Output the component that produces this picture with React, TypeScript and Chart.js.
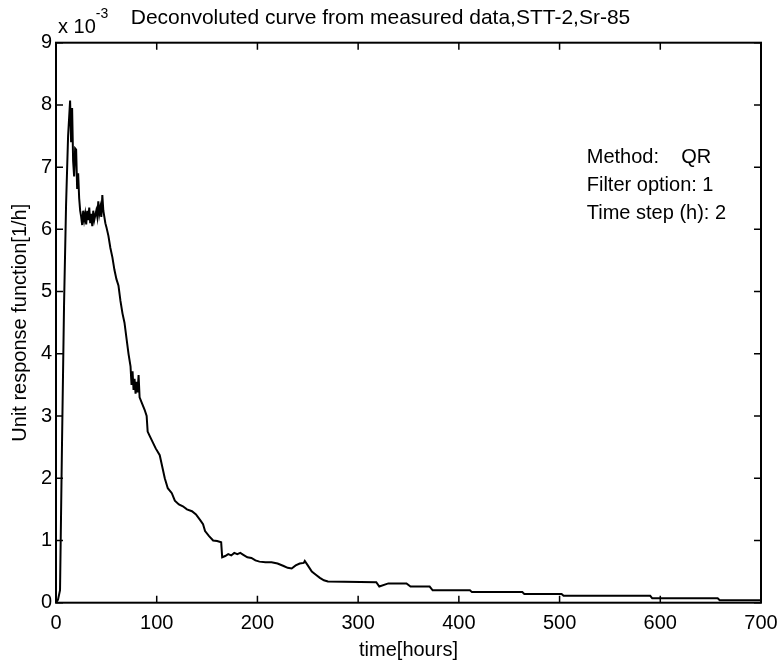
import React, { useEffect, useRef } from "react";
import { Chart, registerables } from "chart.js";

Chart.register(...registerables);

// ---- data (time in hours, unit response in 1e-3 · 1/h) ----
const hours = [
  0, 2, 4, 6, 8, 10, 12, 14, 15, 16, 17, 18, 19, 20, 21, 22, 23, 24, 25, 26, 27, 28, 29, 30,
  31, 32, 33, 34, 35, 36, 37, 38, 40, 41, 42, 43, 44, 45, 46, 47, 48, 49, 50, 52, 54, 56, 58,
  60, 62, 64, 66, 68, 70, 72, 74, 75, 76, 77, 78, 79, 80, 81, 82, 83, 85, 88, 90, 91, 93, 96,
  99, 103, 106, 108, 111, 115, 118, 122, 126, 130, 135, 139, 143, 146, 148, 152, 156, 160,
  164, 165, 168, 171, 174, 177, 180, 183, 186, 190, 194, 198, 202, 208, 214, 220, 226, 230,
  234, 238, 242, 246, 247, 250, 254, 258, 262, 266, 270, 318, 321, 330, 348, 352, 371, 374,
  411, 413, 463, 465, 502, 504, 590, 592, 657, 659, 700,
];
const response = [
  0, 0.05, 0.2, 2.6, 4.8, 6.4, 7.5, 8.07, 7.4, 7.95, 7.1, 6.85, 7.3, 7.28, 6.65, 6.9, 6.5, 6.3,
  6.2, 6.07, 6.3, 6.15, 6.25, 6.08, 6.3, 6.15, 6.35, 6.1, 6.25, 6.05, 6.3, 6.15, 6.3, 6.2, 6.45,
  6.25, 6.35, 6.2, 6.55, 6.3, 6.2, 6.1, 6.04, 5.9, 5.7, 5.55, 5.35, 5.2, 5.1, 4.85, 4.65, 4.5,
  4.25, 4.0, 3.8, 3.5, 3.72, 3.42, 3.6, 3.36, 3.55, 3.38, 3.66, 3.3, 3.22, 3.1, 3.0, 2.75, 2.68,
  2.58, 2.48, 2.37, 2.15, 2.0, 1.84, 1.76, 1.64, 1.58, 1.55, 1.5, 1.47, 1.42, 1.33, 1.26, 1.15,
  1.07, 1.0, 0.99, 0.97, 0.73, 0.75, 0.78, 0.76, 0.8, 0.78, 0.8, 0.77, 0.73, 0.72, 0.68, 0.66,
  0.65, 0.65, 0.63, 0.59, 0.56, 0.55, 0.6, 0.63, 0.64, 0.67, 0.6, 0.5, 0.45, 0.4, 0.36, 0.34,
  0.33, 0.26, 0.31, 0.31, 0.26, 0.26, 0.2, 0.2, 0.17, 0.17, 0.14, 0.14, 0.11, 0.11, 0.07, 0.07,
  0.04, 0.04,
];

const xTicks = [0, 100, 200, 300, 400, 500, 600, 700];
const yTicks = [0, 1, 2, 3, 4, 5, 6, 7, 8, 9];

const titleText = "Deconvoluted curve from measured data,STT-2,Sr-85";
const xTitle = "time[hours]";
const yTitle = "Unit response function[1/h]";
const annotationLines = ["Method:    QR", "Filter option: 1", "Time step (h): 2"];
const annotationAt = { x: 527, y: [7.06, 6.61, 6.17] };

const FONT = "'Liberation Sans', Arial, Helvetica, sans-serif";

const framePlugin = {
  id: "matlabFrame",
  afterDatasetsDraw(chart: any) {
    const { ctx, chartArea, scales } = chart;
    const { left, right, top, bottom } = chartArea;
    const x = scales.x;
    const y = scales.y;
    ctx.save();
    ctx.strokeStyle = "#000";
    ctx.lineWidth = 2;
    ctx.strokeRect(left, top, right - left, bottom - top);
    ctx.lineWidth = 1.5;
    const tl = 7;
    ctx.beginPath();
    xTicks.forEach((v) => {
      const px = x.getPixelForValue(v);
      ctx.moveTo(px, bottom);
      ctx.lineTo(px, bottom - tl);
      ctx.moveTo(px, top);
      ctx.lineTo(px, top + tl);
    });
    yTicks.forEach((v) => {
      const py = y.getPixelForValue(v);
      ctx.moveTo(left, py);
      ctx.lineTo(left + tl, py);
      ctx.moveTo(right, py);
      ctx.lineTo(right - tl, py);
    });
    ctx.stroke();

    // exponent label
    ctx.fillStyle = "#000";
    ctx.textAlign = "left";
    ctx.textBaseline = "alphabetic";
    ctx.font = `20px ${FONT}`;
    ctx.fillText("x 10", left + 2, top - 10);
    const w = ctx.measureText("x 10").width;
    ctx.font = `14px ${FONT}`;
    ctx.fillText("-3", left + 2 + w, top - 25);

    // annotation
    ctx.font = `20px ${FONT}`;
    const ax = x.getPixelForValue(annotationAt.x);
    annotationLines.forEach((t, i) => {
      ctx.fillText(t, ax, y.getPixelForValue(annotationAt.y[i]));
    });
    ctx.restore();
  },
};

export default function App() {
  const ref = useRef<HTMLCanvasElement | null>(null);
  useEffect(() => {
    document.body.style.margin = "0";
    const canvas = ref.current;
    if (!canvas) return;
    Chart.defaults.font.family = FONT;
    const chart = new Chart(canvas, {
      type: "line",
      data: {
        datasets: [
          {
            data: hours.map((h, i) => ({ x: h, y: response[i] })),
            borderColor: "#000",
            borderWidth: 2,
            pointRadius: 0,
            tension: 0,
            fill: false,
          },
        ],
      },
      options: {
        responsive: false,
        animation: false,
        devicePixelRatio: 1,
        layout: { padding: { left: 0, right: 19, top: 0, bottom: 0 } },
        plugins: {
          legend: { display: false },
          tooltip: { enabled: false },
          title: {
            display: true,
            text: titleText,
            color: "#000",
            font: { size: 21, weight: "normal", family: FONT },
            padding: { top: 6, bottom: 11.5 },
          },
        },
        scales: {
          x: {
            type: "linear",
            min: 0,
            max: 700,
            afterBuildTicks: (s: any) => {
              s.ticks = xTicks.map((v) => ({ value: v }));
            },
            afterFit: (s: any) => {
              s.height = 61.3;
              s.paddingLeft = 0;
              s.paddingRight = 0;
            },
            grid: { display: false, drawTicks: false },
            border: { display: false },
            ticks: { color: "#000", padding: 9, font: { size: 20 }, maxRotation: 0 },
            title: {
              display: true,
              text: xTitle,
              color: "#000",
              font: { size: 20 },
              padding: { top: 0, bottom: 1.5 },
            },
          },
          y: {
            type: "linear",
            min: 0,
            max: 9,
            afterBuildTicks: (s: any) => {
              s.ticks = yTicks.map((v) => ({ value: v }));
            },
            afterFit: (s: any) => {
              s.width = 56;
              s.paddingTop = 0;
              s.paddingBottom = 0;
            },
            grid: { display: false, drawTicks: false },
            border: { display: false },
            ticks: { color: "#000", padding: 4, font: { size: 20 } },
            title: {
              display: true,
              text: yTitle,
              color: "#000",
              font: { size: 20 },
              padding: { top: 8, bottom: 0 },
            },
          },
        },
      },
      plugins: [framePlugin],
    });
    return () => chart.destroy();
  }, []);
  return (
    <div style={{ width: 780, height: 664, background: "#fff" }}>
      <canvas ref={ref} width={780} height={664} style={{ display: "block" }} />
    </div>
  );
}
